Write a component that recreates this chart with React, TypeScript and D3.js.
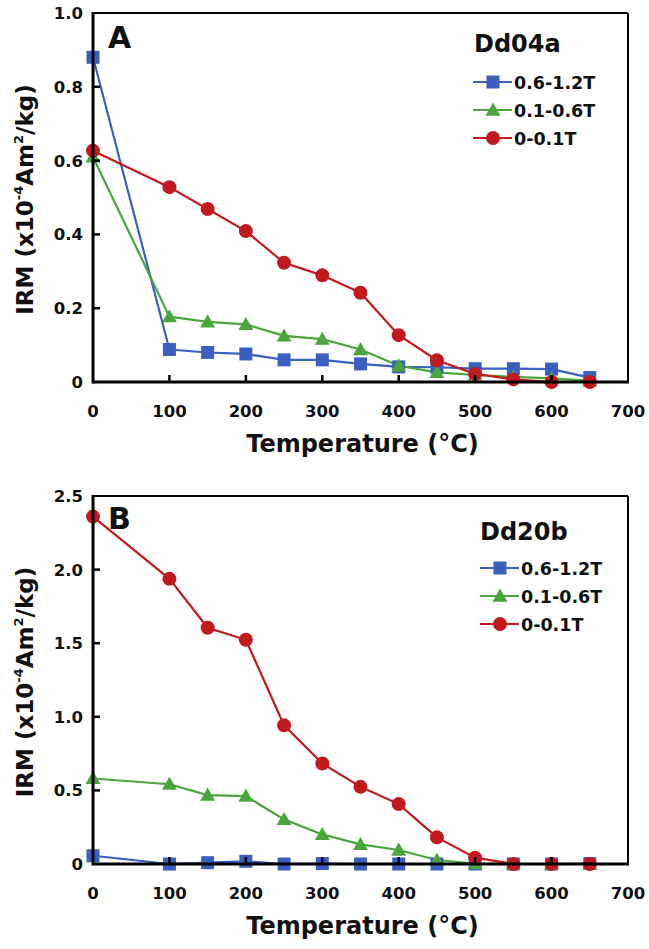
import React from "react";
import * as d3 from "d3";

const temps = [0, 100, 150, 200, 250, 300, 350, 400, 450, 500, 550, 600, 650];
const seriesNames = ["0.6-1.2T", "0.1-0.6T", "0-0.1T"];
const seriesColors = ["#3a5fc0", "#4aa63c", "#c0191e"];
const seriesShapes = ["square", "triangle", "circle"];

const aHigh = [0.88, 0.088, 0.08, 0.076, 0.06, 0.06, 0.049, 0.041, 0.04, 0.036, 0.036, 0.035, 0.012];
const aMid = [0.61, 0.177, 0.163, 0.156, 0.125, 0.116, 0.088, 0.044, 0.026, 0.019, 0.014, 0.01, 0.003];
const aLow = [0.627, 0.528, 0.469, 0.409, 0.323, 0.289, 0.242, 0.127, 0.059, 0.022, 0.007, 0.0, 0.0];

const bHigh = [0.056, 0.0, 0.009, 0.018, 0.0, 0.003, 0.0, 0.0, 0.0, 0.0, 0.0, 0.0, 0.003];
const bMid = [0.581, 0.542, 0.468, 0.461, 0.303, 0.201, 0.133, 0.095, 0.027, 0.003, 0.0, 0.0, 0.0];
const bLow = [2.36, 1.937, 1.605, 1.523, 0.942, 0.683, 0.524, 0.407, 0.181, 0.043, 0.0, 0.0, 0.0];

const xTicks = [0, 100, 200, 300, 400, 500, 600, 700];
const aYTicks = [0, 0.2, 0.4, 0.6, 0.8, 1.0];
const aYLabels = ["0", "0.2", "0.4", "0.6", "0.8", "1.0"];
const bYTicks = [0, 0.5, 1.0, 1.5, 2.0, 2.5];
const bYLabels = ["0", "0.5", "1.0", "1.5", "2.0", "2.5"];

const FONT = "'DejaVu Sans', Verdana, sans-serif";

function Marker({ shape, x, y, color }: { shape: string; x: number; y: number; color: string }) {
  if (shape === "square") {
    return <rect x={x - 6.5} y={y - 6.5} width={13} height={13} fill={color} />;
  }
  if (shape === "triangle") {
    const s = 7.5;
    return (
      <path
        d={`M${x},${y - s} L${x + s},${y + s * 0.75} L${x - s},${y + s * 0.75} Z`}
        fill={color}
      />
    );
  }
  return <circle cx={x} cy={y} r={7} fill={color} />;
}

type PanelProps = {
  top: number;
  bottom: number;
  yMax: number;
  yTicks: number[];
  yLabels: string[];
  data: number[][];
  letter: string;
  sample: string;
  letterY: number;
  sampleX: number;
  sampleY: number;
  legendX: number;
  legendY: number;
};

function Panel(p: PanelProps) {
  const left = 93;
  const right = 628;
  const x = d3.scaleLinear().domain([0, 700]).range([left, right]);
  const y = d3.scaleLinear().domain([0, p.yMax]).range([p.bottom, p.top]);
  const line = d3
    .line<number>()
    .x((_, i) => x(temps[i]))
    .y((v) => y(v));
  const midY = (p.top + p.bottom) / 2;
  return (
    <g>
      <line x1={left} x2={right} y1={p.top} y2={p.top} stroke="#000" strokeWidth={2} />
      <line x1={right} x2={right} y1={p.top} y2={p.bottom} stroke="#000" strokeWidth={2} />
      {p.data.map((vals, si) => (
        <path key={si} d={line(vals) || ""} fill="none" stroke={seriesColors[si]} strokeWidth={2.2} />
      ))}
      {p.data.map((vals, si) => (
        <g key={"m" + si}>
          {vals.map((v, i) => (
            <Marker key={i} shape={seriesShapes[si]} x={x(temps[i])} y={y(v)} color={seriesColors[si]} />
          ))}
        </g>
      ))}
      <line x1={left} x2={left} y1={p.top - 1} y2={p.bottom + 1.5} stroke="#000" strokeWidth={3} />
      <line x1={left} x2={right + 1} y1={p.bottom} y2={p.bottom} stroke="#000" strokeWidth={3} />
      {xTicks.slice(1, -1).map((t) => (
        <line key={t} x1={x(t)} x2={x(t)} y1={p.bottom} y2={p.bottom - 7} stroke="#000" strokeWidth={2.5} />
      ))}
      {p.yTicks.slice(1, -1).map((t) => (
        <line key={t} x1={left} x2={left + 7} y1={y(t)} y2={y(t)} stroke="#000" strokeWidth={2.5} />
      ))}
      {xTicks.map((t) => (
        <text
          key={t}
          x={x(t)}
          y={p.bottom + 35}
          textAnchor="middle"
          fontFamily={FONT}
          fontWeight="bold"
          fontSize={16.5}
          fill="#111"
        >
          {t}
        </text>
      ))}
      {p.yTicks.map((t, i) => (
        <text
          key={t}
          x={left - 10}
          y={y(t) + 6}
          textAnchor="end"
          fontFamily={FONT}
          fontWeight="bold"
          fontSize={16.5}
          fill="#111"
        >
          {p.yLabels[i]}
        </text>
      ))}
      <text
        x={(left + right) / 2 + 2}
        y={p.bottom + 70}
        textAnchor="middle"
        fontFamily={FONT}
        fontWeight="bold"
        fontSize={24}
        fill="#111"
      >
        Temperature (°C)
      </text>
      <text
        transform={`translate(33,${midY + 2}) rotate(-90)`}
        textAnchor="middle"
        fontFamily={FONT}
        fontWeight="bold"
        fontSize={23}
        fill="#111"
      >
        IRM (x10
        <tspan fontSize={13} dy={-10}>-4</tspan>
        <tspan dy={10}>Am</tspan>
        <tspan fontSize={13} dy={-10}>2</tspan>
        <tspan dy={10}>/kg)</tspan>
      </text>
      <text x={108} y={p.letterY} fontFamily={FONT} fontWeight="bold" fontSize={30} fill="#111">
        {p.letter}
      </text>
      <text x={p.sampleX} y={p.sampleY} fontFamily={FONT} fontWeight="bold" fontSize={24} fill="#111">
        {p.sample}
      </text>
      {seriesNames.map((name, i) => {
        const lx = p.legendX;
        const ly = p.legendY + i * 28;
        return (
          <g key={name}>
            <line x1={lx} x2={lx + 39} y1={ly} y2={ly} stroke={seriesColors[i]} strokeWidth={2.2} />
            <Marker shape={seriesShapes[i]} x={lx + 20} y={ly} color={seriesColors[i]} />
            <text x={lx + 41} y={ly + 6.5} fontFamily={FONT} fontWeight="bold" fontSize={17.5} fill="#111">
              {name}
            </text>
          </g>
        );
      })}
    </g>
  );
}

export default function App() {
  return (
    <svg
      width={649}
      height={949}
      style={{ position: "absolute", left: 0, top: 0, background: "#fff" }}
    >
      <Panel
        top={13}
        bottom={382}
        yMax={1.0}
        yTicks={aYTicks}
        yLabels={aYLabels}
        data={[aHigh, aMid, aLow]}
        letter="A"
        sample="Dd04a"
        letterY={48}
        sampleX={474}
        sampleY={52}
        legendX={473}
        legendY={82}
      />
      <Panel
        top={496}
        bottom={864}
        yMax={2.5}
        yTicks={bYTicks}
        yLabels={bYLabels}
        data={[bHigh, bMid, bLow]}
        letter="B"
        sample="Dd20b"
        letterY={529}
        sampleX={480}
        sampleY={540}
        legendX={480}
        legendY={568}
      />
    </svg>
  );
}
